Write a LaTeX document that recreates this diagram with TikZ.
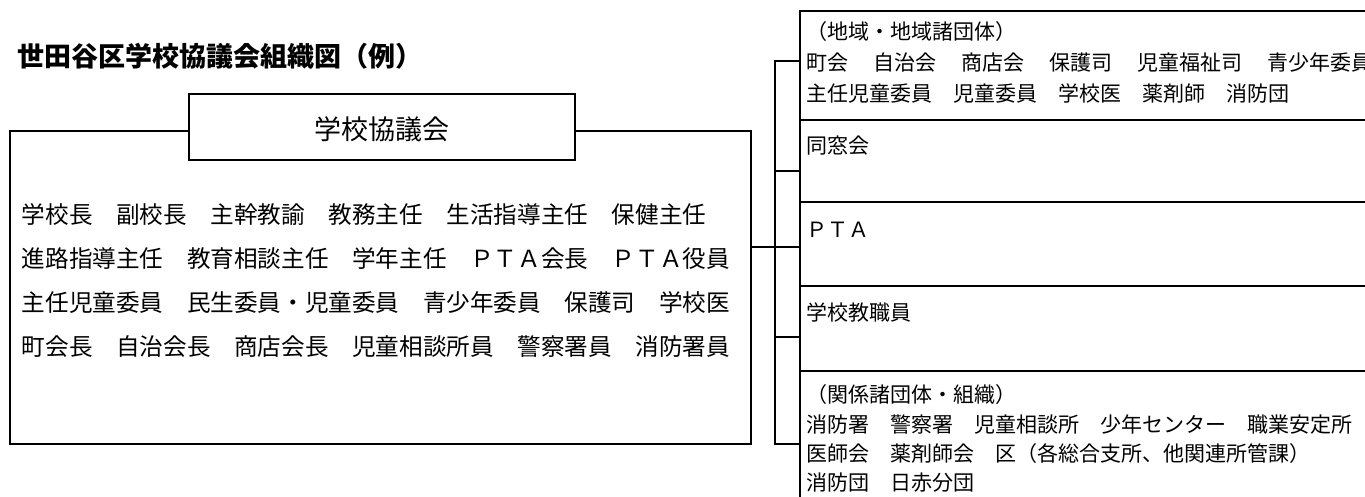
\documentclass[tikz,border=0pt]{standalone}
\usepackage{fontspec}
\setmainfont{Noto Sans CJK JP}
\newcommand\wsp{　\kern4pt}
\begin{document}
\begin{tikzpicture}[x=1pt,y=-1pt,
  line width=1.8pt,
  frame/.style={draw, line width=1.8pt, inner sep=0pt, outer sep=0pt},
  ltxt/.style={anchor=base west, inner sep=0pt, font=\fontsize{23.6pt}{28pt}\selectfont},
  rtxt/.style={anchor=base west, inner sep=0pt, font=\fontsize{21pt}{25pt}\selectfont},
  conn/.style={draw, line width=1.8pt}
]
\useasboundingbox (0,0) rectangle (1365,497);
\clip (0,0) rectangle (1365,497);

% title
\node[anchor=base west, inner sep=0pt, font=\fontsize{27pt}{32pt}\selectfont\bfseries] (title) at (17,67) {世田谷区学校協議会組織図（例）};

% council box
\node[frame, minimum width=741pt, minimum height=313pt] (council) at (380.5,287.5) {};
\node[frame, fill=white, minimum width=386pt, minimum height=66pt] (head) at (382,127) {};
\node[anchor=base, inner sep=0pt, font=\fontsize{27pt}{32pt}\selectfont] (headtxt) at (382,140) {学校協議会};

\node[ltxt] (l1) at (21,223) {学校長　副校長　主幹教諭　教務主任　生活指導主任　保健主任};
\node[ltxt] (l2) at (21,267) {進路指導主任　教育相談主任　学年主任　ＰＴＡ会長　ＰＴＡ役員};
\node[ltxt] (l3) at (21,311) {主任児童委員　民生委員・児童委員　青少年委員　保護司　学校医};
\node[ltxt] (l4) at (21,355) {町会長　自治会長　商店会長　児童相談所員　警察署員　消防署員};

% right column boxes
\node[frame, anchor=north west, minimum width=620pt, minimum height=109pt] (g1) at (800,11) {};
\node[frame, anchor=north west, minimum width=620pt, minimum height=82pt] (g2) at (800,120) {};
\node[frame, anchor=north west, minimum width=620pt, minimum height=84pt] (g3) at (800,202) {};
\node[frame, anchor=north west, minimum width=620pt, minimum height=85pt] (g4) at (800,286) {};
\node[frame, anchor=north west, minimum width=620pt, minimum height=160pt] (g5) at (800,371) {};

\node[rtxt] (g1a) at (806,40) {（地域・地域諸団体）};
\node[rtxt] (g1b) at (806,71) {町会\wsp 自治会\wsp 商店会\wsp 保護司\wsp 児童福祉司\wsp 青少年委員};
\node[rtxt] (g1c) at (806,102) {主任児童委員　児童委員　学校医　薬剤師　消防団};
\node[rtxt] (g2a) at (806,154) {同窓会};
\node[rtxt] (g3a) at (806,237) {ＰＴＡ};
\node[rtxt] (g4a) at (806,320) {学校教職員};
\node[rtxt] (g5a) at (806,402) {（関係諸団体・組織）};
\node[rtxt] (g5b) at (806,432) {消防署　警察署　児童相談所　少年センター　職業安定所};
\node[rtxt] (g5c) at (806,461) {医師会　薬剤師会　区（各総合支所、他関連所管課）};
\node[rtxt] (g5d) at (806,490) {消防団　日赤分団};

% connectors
\coordinate (s1) at ([yshift=-50pt]g1.north west);
\coordinate (s2) at ([yshift=-51pt]g2.north west);
\coordinate (s3) at ([yshift=-45pt]g3.north west);
\coordinate (s4) at ([yshift=-51pt]g4.north west);
\coordinate (s5) at ([yshift=-73pt]g5.north west);
\draw[conn] (council.east |- s3) -- (s3);
\draw[conn] (s1) -- ++(-25,0) |- (s5);
\draw[conn] (s2) -- ++(-25,0);
\draw[conn] (s4) -- ++(-25,0);
\end{tikzpicture}
\end{document}
